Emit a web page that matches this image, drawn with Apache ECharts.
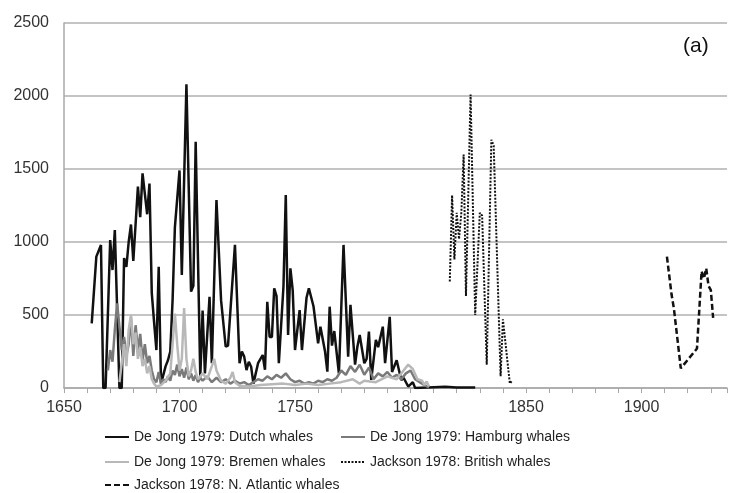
<!DOCTYPE html>
<html>
<head>
<meta charset="utf-8">
<script src="https://cdn.jsdelivr.net/npm/echarts@6/dist/echarts.min.js"></script>
<style>
  html, body { margin: 0; padding: 0; background: #fff; }
  #chart { width: 730px; height: 493px; }
</style>
</head>
<body>
<div id="chart"></div>
<script>
// Whale catches per year, [year, whales]
const dutch = [
  [1662,443],[1664,900],[1666,980],[1667,0],[1668,0],[1670,1013],[1671,808],[1672,1082],
  [1674,0],[1675,0],[1676,890],[1677,830],[1678,1000],[1679,1120],[1680,870],[1682,1380],
  [1683,1170],[1684,1470],[1685,1330],[1686,1190],[1687,1400],[1688,650],[1689,450],
  [1690,260],[1691,830],[1692,30],[1694,150],[1695,190],[1696,250],[1697,600],[1698,1100],
  [1700,1490],[1701,775],[1703,2080],[1705,660],[1706,700],[1707,1687],[1709,77],[1710,530],
  [1711,100],[1713,625],[1714,170],[1716,1288],[1718,600],[1720,283],[1721,290],[1724,980],
  [1726,170],[1727,250],[1728,215],[1729,123],[1730,180],[1731,146],[1732,30],[1734,170],
  [1736,226],[1737,125],[1738,590],[1739,350],[1740,350],[1741,683],[1742,630],[1743,170],
  [1745,695],[1746,1322],[1747,363],[1748,820],[1749,670],[1750,260],[1752,534],[1753,260],
  [1755,620],[1756,683],[1758,560],[1760,306],[1761,420],[1763,250],[1764,112],[1765,557],
  [1766,290],[1767,390],[1769,100],[1771,980],[1773,215],[1774,570],[1776,160],[1777,283],
  [1778,363],[1780,170],[1781,200],[1782,386],[1783,55],[1785,330],[1786,280],[1788,420],
  [1789,170],[1791,488],[1792,110],[1794,190],[1796,55],[1797,70],[1799,10],[1801,40],
  [1802,0],[1810,5],[1815,8],[1820,4],[1828,3]
];
const hamburg = [
  [1669,120],[1670,260],[1671,180],[1672,400],[1673,580],[1674,420],[1675,260],[1676,350],
  [1677,220],[1678,300],[1679,480],[1680,220],[1681,430],[1682,260],[1683,370],[1684,190],
  [1685,300],[1686,170],[1687,220],[1688,120],[1689,60],[1690,40],[1691,110],[1692,30],
  [1693,60],[1694,40],[1695,80],[1696,50],[1697,120],[1698,90],[1699,160],[1700,80],
  [1701,130],[1702,70],[1703,140],[1704,60],[1705,100],[1706,50],[1707,90],[1708,40],
  [1709,70],[1710,50],[1712,80],[1714,40],[1716,70],[1718,40],[1720,60],[1722,30],
  [1724,50],[1726,30],[1728,40],[1730,20],[1732,40],[1734,60],[1736,50],[1738,80],
  [1740,60],[1742,90],[1744,70],[1746,100],[1748,60],[1750,40],[1752,50],[1754,30],
  [1756,40],[1758,30],[1760,50],[1762,40],[1764,60],[1766,50],[1768,70],[1770,120],
  [1772,90],[1774,150],[1776,110],[1778,160],[1780,90],[1782,140],[1784,60],[1786,100],
  [1788,80],[1790,110],[1792,70],[1794,90],[1796,60],[1798,100],[1800,120],[1802,60],
  [1804,40],[1806,20],[1808,5]
];
const bremen = [
  [1674,40],[1676,300],[1677,150],[1678,400],[1679,500],[1680,300],[1681,380],[1682,200],
  [1683,280],[1684,150],[1685,200],[1686,100],[1687,150],[1688,60],[1689,30],[1690,10],
  [1692,20],[1694,50],[1696,100],[1697,300],[1698,510],[1699,300],[1700,120],[1701,200],
  [1702,548],[1703,200],[1704,80],[1705,120],[1706,200],[1707,110],[1708,60],[1710,100],
  [1712,60],[1714,150],[1715,200],[1716,120],[1718,50],[1720,30],[1722,70],[1723,110],
  [1724,40],[1726,15],[1730,10],[1735,20],[1740,25],[1745,30],[1750,20],[1755,30],
  [1760,20],[1765,30],[1770,40],[1775,60],[1778,30],[1780,50],[1785,40],[1790,80],
  [1794,60],[1797,120],[1799,160],[1801,130],[1803,60],[1805,50],[1806,20],[1807,45],[1808,10]
];
const british = [
  [1817,730],[1818,1320],[1819,880],[1820,1200],[1821,1020],[1822,1200],[1823,1600],
  [1824,630],[1826,2010],[1828,500],[1830,1200],[1831,1180],[1833,160],[1835,1700],
  [1836,1660],[1839,80],[1840,470],[1843,30],[1844,50]
];
const atlantic = [
  [1911,900],[1913,640],[1914,546],[1917,135],[1924,270],[1926,800],[1927,750],
  [1928,820],[1929,700],[1930,670],[1931,480]
];

const names = [
  'De Jong 1979: Dutch whales',
  'De Jong 1979: Hamburg whales',
  'De Jong 1979: Bremen whales',
  'Jackson 1978: British whales',
  'Jackson 1978: N. Atlantic whales'
];
const yearTicks = [1650, 1700, 1750, 1800, 1850, 1900];

const FONT = '"Liberation Sans", Arial, sans-serif';

function lineSeries(name, data, color, width, type) {
  return {
    name, type: 'line', data, symbol: 'none', smooth: false,
    lineStyle: { color, width, type },
    itemStyle: { color },
    emphasis: { disabled: true }
  };
}

function legendAt(name, left, top) {
  return {
    data: [name], left, top, padding: 0, itemWidth: 24, itemHeight: 14,
    selectedMode: false,
    itemStyle: { opacity: 0 },
    textStyle: { fontSize: 14, color: '#1e1e1e', fontFamily: FONT }
  };
}

const chart = echarts.init(document.getElementById('chart'), null, { renderer: 'canvas' });
chart.setOption({
  animation: false,
  backgroundColor: '#ffffff',
  grid: { left: 64, right: 0, top: 23, bottom: 105 },
  xAxis: {
    type: 'value', min: 1650, max: 1937, interval: 10,
    axisLine: { show: true, lineStyle: { color: '#a8a8a8', width: 1.5 } },
    axisTick: { show: true, length: 5, lineStyle: { color: '#a8a8a8', width: 1 } },
    splitLine: { show: false },
    axisLabel: {
      margin: 12, fontSize: 16, color: '#333', fontFamily: FONT,
      formatter: v => yearTicks.includes(v) ? String(v) : ''
    }
  },
  yAxis: {
    type: 'value', min: 0, max: 2500, interval: 500,
    axisLine: { show: true, lineStyle: { color: '#a8a8a8', width: 1.5 } },
    axisTick: { show: false },
    splitLine: { show: true, lineStyle: { color: '#b0b0b0', width: 1.5 } },
    axisLabel: { margin: 15, fontSize: 16, color: '#333', fontFamily: FONT, formatter: v => String(v) }
  },
  legend: [
    legendAt(names[0], 104, 430),
    legendAt(names[1], 340, 430),
    legendAt(names[2], 104, 455),
    legendAt(names[3], 340, 455),
    legendAt(names[4], 104, 478)
  ],
  graphic: [{
    type: 'text', left: 683, top: 36,
    style: { text: '(a)', fontSize: 21, fill: '#111', font: '21px ' + FONT }
  }],
  series: [
    lineSeries(names[0], dutch, '#111111', 2.5, 'solid'),
    lineSeries(names[1], hamburg, '#7a7a7a', 2.5, 'solid'),
    lineSeries(names[2], bremen, '#b8b8b8', 2.5, 'solid'),
    lineSeries(names[3], british, '#111111', 2, [2, 1.5]),
    lineSeries(names[4], atlantic, '#111111', 2.5, [6, 3])
  ]
});
</script>
</body>
</html>
